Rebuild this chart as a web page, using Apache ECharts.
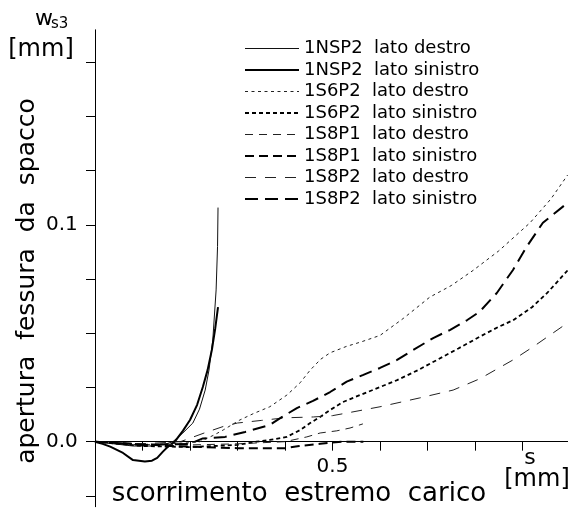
<!DOCTYPE html>
<html>
<head>
<meta charset="utf-8">
<script src="https://cdn.jsdelivr.net/npm/echarts@6/dist/echarts.min.js"></script>
<style>
html,body{margin:0;padding:0;background:#fff;}
#c{width:571px;height:509px;}
</style>
</head>
<body>
<div id="c"></div>
<script>
// ---- data: [s (mm), w_s3 (mm)] ----
const nsp2Destro = [[0,0],[0.04,-0.001],[0.08,-0.002],[0.12,-0.002],[0.15,-0.001],[0.164,0],[0.185,0.004],[0.206,0.0086],[0.22,0.015],[0.232,0.0238],[0.24,0.033],[0.248,0.0469],[0.255,0.07],[0.258,0.09],[0.259,0.108]];
const nsp2Sinistro = [[0,0],[0.016,-0.001],[0.032,-0.0023],[0.059,-0.0052],[0.08,-0.0085],[0.105,-0.0092],[0.12,-0.0088],[0.131,-0.0075],[0.143,-0.0046],[0.155,-0.002],[0.168,0],[0.185,0.005],[0.2,0.01],[0.215,0.017],[0.227,0.0252],[0.237,0.033],[0.246,0.0423],[0.253,0.052],[0.259,0.0621]];
const s6p2Destro = [[0,0],[0.05,-0.001],[0.1,-0.0015],[0.15,-0.001],[0.2,-0.0005],[0.221,0],[0.25,0.003],[0.27,0.0054],[0.305,0.01],[0.334,0.013],[0.368,0.0161],[0.404,0.0215],[0.432,0.0272],[0.453,0.033],[0.475,0.038],[0.495,0.041],[0.53,0.044],[0.56,0.046],[0.6,0.049],[0.65,0.057],[0.705,0.0667],[0.75,0.072],[0.796,0.079],[0.85,0.088],[0.916,0.101],[0.96,0.112],[0.995,0.123]];
const s6p2Sinistro = [[0,0],[0.05,-0.001],[0.1,-0.002],[0.2,-0.0025],[0.3,-0.0015],[0.34,0],[0.368,0.0008],[0.404,0.0022],[0.432,0.0054],[0.453,0.0086],[0.474,0.0114],[0.495,0.0146],[0.522,0.0183],[0.558,0.0215],[0.6,0.0252],[0.636,0.0284],[0.68,0.033],[0.72,0.0377],[0.765,0.043],[0.81,0.0484],[0.85,0.053],[0.88,0.056],[0.92,0.062],[0.952,0.0686],[0.995,0.079]];
const s8p1Destro = [[0,0],[0.1,-0.001],[0.2,-0.0015],[0.3,-0.001],[0.4,0],[0.446,0.0022],[0.474,0.004],[0.509,0.005],[0.537,0.0063],[0.564,0.0082]];
const s8p1Sinistro = [[0,0],[0.08,-0.001],[0.16,-0.002],[0.3,-0.003],[0.4,-0.003],[0.43,-0.002],[0.474,-0.001],[0.52,0],[0.565,0]];
const s8p2Destro = [[0,0],[0.1,-0.001],[0.18,0],[0.23,0.004],[0.27,0.007],[0.3,0.0086],[0.35,0.0098],[0.4,0.011],[0.46,0.0114],[0.5,0.012],[0.53,0.0132],[0.6,0.0161],[0.684,0.0202],[0.754,0.0238],[0.81,0.029],[0.88,0.0377],[0.922,0.0437],[0.995,0.0548]];
const s8p2Sinistro = [[0,0],[0.1,-0.0015],[0.2,-0.001],[0.227,0.0015],[0.274,0.0022],[0.316,0.0045],[0.368,0.0077],[0.394,0.0114],[0.425,0.0155],[0.459,0.0188],[0.495,0.0229],[0.53,0.0277],[0.565,0.0308],[0.6,0.034],[0.636,0.0377],[0.67,0.0423],[0.712,0.0478],[0.747,0.0515],[0.783,0.056],[0.81,0.06],[0.846,0.0686],[0.88,0.0792],[0.909,0.09],[0.943,0.101],[0.994,0.11]];

const seriesNames = ['1NSP2  lato destro','1NSP2  lato sinistro','1S6P2  lato destro','1S6P2  lato sinistro','1S8P1  lato destro','1S8P1  lato sinistro','1S8P2  lato destro','1S8P2  lato sinistro'];
const seriesData = [nsp2Destro, nsp2Sinistro, s6p2Destro, s6p2Sinistro, s8p1Destro, s8p1Sinistro, s8p2Destro, s8p2Sinistro];

const xMin = 0, xMax = 0.995;
const yMin = -0.03, yMax = 0.19;
const xTicks = [0.1,0.2,0.3,0.4,0.5,0.6,0.7,0.8,0.9];
const xLabels = [0.5];
const yTicks = [-0.025,0,0.025,0.05,0.075,0.1,0.125,0.15,0.175];
const yLabels = [0,0.1];

// styles (not data)
const styles = [
  {width:1, type:'solid', color:'#111'},
  {width:2, type:'solid', color:'#000'},
  {width:1, type:[3,3.5], color:'#222'},
  {width:1.8, type:[4,3], color:'#000'},
  {width:1, type:[8,6], color:'#222'},
  {width:2, type:[9,5], color:'#000'},
  {width:1, type:[11,9], color:'#222'},
  {width:2, type:[13,7], color:'#000'}
];

const FF = 'DejaVu Sans';
const W = 571, H = 509;
const G = {left:95, right:3.4, top:29.8, bottom:2.3};
const gridH = H - G.top - G.bottom;
// move the x axis up to the w = 0 level
const xAxisOffset = -((0 - yMin) / (yMax - yMin)) * gridH;

const chart = echarts.init(document.getElementById('c'), null, {renderer:'canvas'});

const option = {
  animation:false,
  backgroundColor:'#fff',
  grid:{left:G.left, right:G.right, top:G.top, bottom:G.bottom, containLabel:false, outerBoundsMode:'none'},
  xAxis:{
    type:'value', min:xMin, max:xMax, position:'bottom', offset:xAxisOffset,
    axisLine:{show:true, onZero:false, lineStyle:{color:'#000', width:1}},
    axisTick:{show:true, customValues:xTicks, length:9, lineStyle:{color:'#000', width:1}},
    axisLabel:{show:true, customValues:xLabels, formatter:v=>Number(v).toFixed(1), margin:15, fontSize:20, fontFamily:FF, color:'#000'},
    splitLine:{show:false}
  },
  yAxis:{
    type:'value', min:yMin, max:yMax,
    axisLine:{show:true, onZero:false, lineStyle:{color:'#000', width:1}},
    axisTick:{show:true, customValues:yTicks, length:9, lineStyle:{color:'#000', width:1}},
    axisLabel:{show:true, customValues:yLabels, formatter:v=>Number(v).toFixed(1), margin:49, align:'left', fontSize:20, fontFamily:FF, color:'#000'},
    splitLine:{show:false}
  },
  legend:{
    orient:'vertical', left:244, top:39.5, padding:0,
    itemWidth:54, itemHeight:14, itemGap:3.5,
    itemStyle:{color:'rgba(0,0,0,0)', borderWidth:0, opacity:0},
    textStyle:{fontSize:18, fontFamily:FF, color:'#000'},
    data:seriesNames.map((n,i)=>({
      name:n,
      itemStyle:{color:'rgba(0,0,0,0)', borderWidth:0, opacity:0},
      lineStyle:{color:styles[i].color, width:styles[i].width, type:styles[i].type, opacity:1}
    }))
  },
  series: seriesNames.map((n,i)=>({
    name:n, type:'line', data:seriesData[i],
    symbol:'none', showSymbol:false, smooth:false,
    lineStyle:{color:styles[i].color, width:styles[i].width, type:styles[i].type},
    itemStyle:{color:'#000'},
    emphasis:{disabled:true}, silent:true, z:2
  })),
  graphic:[
    {type:'text', x:35, y:19, style:{text:'w', font:'22px "DejaVu Sans"', fill:'#000', textAlign:'left', verticalAlign:'middle'}},
    {type:'text', x:51, y:24, style:{text:'s3', font:'15px "DejaVu Sans"', fill:'#000', textAlign:'left', verticalAlign:'middle'}},
    {type:'text', x:41, y:50, style:{text:'[mm]', font:'24px "DejaVu Sans"', fill:'#000', textAlign:'center', verticalAlign:'middle'}},
    {type:'text', x:27, y:281, rotation:Math.PI/2, style:{text:'apertura  fessura  da  spacco', font:'25px "DejaVu Sans"', fill:'#000', textAlign:'center', verticalAlign:'middle'}},
    {type:'text', x:299, y:494, style:{text:'scorrimento  estremo  carico', font:'26px "DejaVu Sans"', fill:'#000', textAlign:'center', verticalAlign:'middle'}},
    {type:'text', x:530, y:458, style:{text:'s', font:'22px "DejaVu Sans"', fill:'#000', textAlign:'center', verticalAlign:'middle'}},
    {type:'text', x:537, y:480, style:{text:'[mm]', font:'24px "DejaVu Sans"', fill:'#000', textAlign:'center', verticalAlign:'middle'}}
  ]
};
chart.setOption(option);
</script>
</body>
</html>
